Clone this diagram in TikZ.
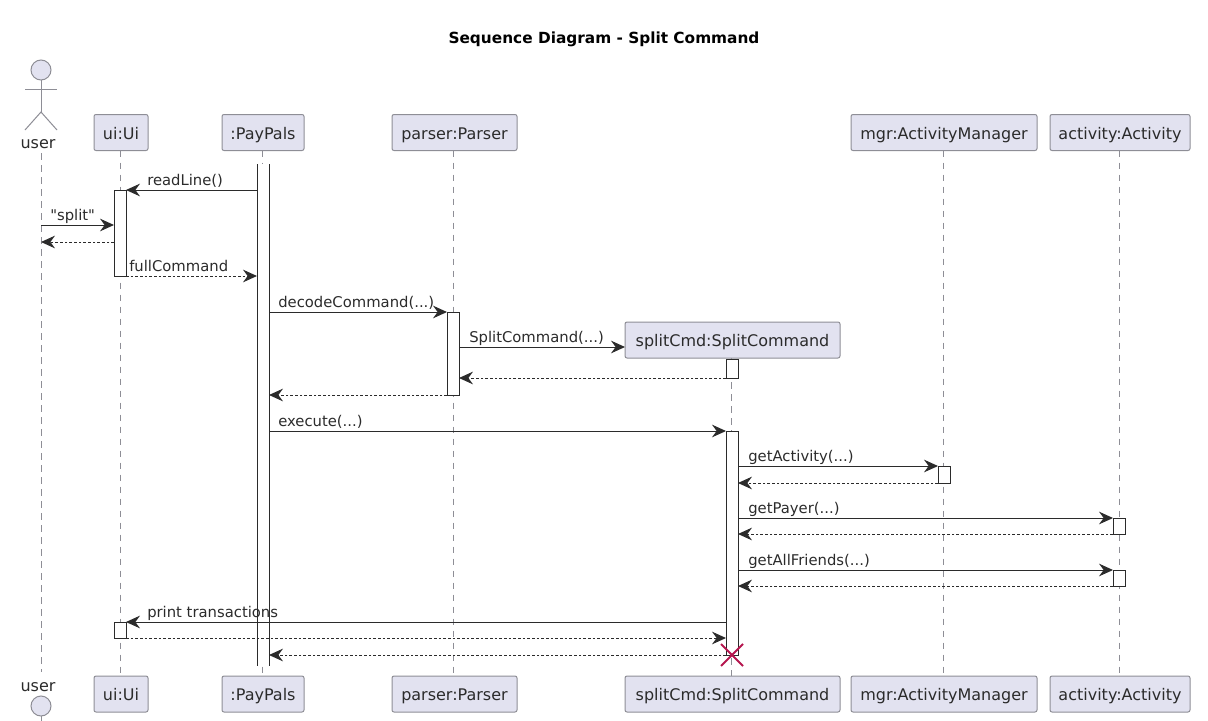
\documentclass[tikz,border=0pt]{standalone}
\usepackage{fontspec}
\setmainfont{DejaVu Sans}[Ligatures=TeXOff]
\usetikzlibrary{arrows.meta}

\definecolor{partfill}{HTML}{E2E2F0}
\definecolor{partline}{HTML}{8E8E96}
\definecolor{inkline}{HTML}{2B2B2B}
\definecolor{killred}{HTML}{B5164E}

\tikzset{
	x=0.75pt,y=-0.75pt,
	partbox/.style={draw=partline,fill=partfill,line width=0.75pt,rounded corners=1.5pt,inner sep=0pt,outer sep=0pt,minimum height=27pt,text height=10.4pt,text depth=0pt,font=\fontsize{12}{14}\selectfont,text=inkline},
	actbar/.style={draw=inkline,fill=white,line width=0.75pt,inner sep=0pt,outer sep=0pt,minimum width=9pt},
	lifeline/.style={draw=partline,line width=0.6pt,dash pattern=on 5pt off 4pt},
	msg/.style={draw=inkline,line width=0.75pt,-{Stealth[length=10.5pt,width=9.5pt,inset=3.5pt]}},
	ret/.style={msg,dash pattern=on 2pt off 1.5pt},
	msglabel/.style={anchor=west,inner sep=0pt,text height=9.2pt,text depth=0pt,font=\fontsize{11.1}{13}\selectfont,text=inkline},
	actorline/.style={draw=partline,line width=0.75pt},
	actorname/.style={inner sep=0pt,text height=8pt,text depth=0pt,font=\fontsize{12}{14}\selectfont,text=inkline}
}
\newcommand{\barnode}[4]{\node[actbar,minimum height={(#4-#3)*0.75pt}] (#1) at (#2,{(#3+#4)/2}) {};}

\begin{document}
\begin{tikzpicture}
	\useasboundingbox (0,0) rectangle (1208,721);
	\node[font=\fontsize{11.5}{13}\selectfont\bfseries,text=black] (title) at (604,39.5) {Sequence Diagram - Split Command};

	% participants, top and bottom
	\foreach \name/\cx/\bw/\txt in {ui/121/54/{ui:Ui},pay/263/82/{:PayPals},parser/454.5/125/{parser:Parser},mgr/944/186/{mgr:ActivityManager},act/1120/140/{activity:Activity}}{
		\node[partbox,minimum width=\bw*0.75pt] (\name Head) at (\cx,132.5) {\txt};
		\node[partbox,minimum width=\bw*0.75pt] (\name Foot) at (\cx,694) {\txt};
	}
	\node[partbox,minimum width=161.25pt] (splitHead) at (732.5,340) {splitCmd:SplitCommand};
	\node[partbox,minimum width=161.25pt] (splitFoot) at (732.5,694) {splitCmd:SplitCommand};

	% actor on top
	\node[circle,draw=partline,fill=partfill,line width=0.75pt,minimum size=15pt,inner sep=0pt,outer sep=0pt] (userCircle) at (41,70) {};
	\coordinate (userHip) at (41,112);
	\coordinate (userArmL) at (25,89);
	\coordinate (userArmR) at (57,89);
	\coordinate (userLegL) at (25,130);
	\coordinate (userLegR) at (57,130);
	\draw[actorline] (userCircle.south) -- (userHip);
	\draw[actorline] (userArmL) -- (userArmR);
	\draw[actorline] (userLegL) -- (userHip) -- (userLegR);
	\node[actorname] (userHead) at (38,143) {user};

	% actor at the bottom
	\node[actorname] (userFoot) at (38,686.5) {user};
	\node[circle,draw=partline,fill=partfill,line width=0.75pt,minimum size=15pt,inner sep=0pt,outer sep=0pt] (userCircleB) at (41,706) {};
	\coordinate (userBodyB) at (41,721);
	\draw[actorline] (userCircleB.south) -- (userBodyB);

	% lifelines
	\coordinate (userTop) at (41,153);
	\coordinate (userEnd) at (41,672);
	\draw[lifeline] (userTop) -- (userEnd);
	\foreach \name in {ui,pay,parser,mgr,act,split}{
		\draw[lifeline] ([xshift=-0.75pt]\name Head.south) -- ([xshift=-0.75pt]\name Foot.north);
	}

	% activations
	\node[draw=none,fill=white,inner sep=0pt,outer sep=0pt,minimum width=9pt,minimum height=376.5pt] (payBar) at (263,415) {};
	\draw[draw=inkline,line width=0.75pt] (payBar.north west) -- (payBar.south west);
	\draw[draw=inkline,line width=0.75pt] (payBar.north east) -- (payBar.south east);
	\barnode{uiBarA}{120}{190}{276}
	\barnode{uiBarB}{120}{622}{638}
	\barnode{parserBar}{453}{312}{395}
	\barnode{splitBarA}{732}{359}{378}
	\barnode{splitBarB}{732}{431}{655}
	\barnode{mgrBar}{944}{466}{483}
	\barnode{actBarA}{1119}{518}{534}
	\barnode{actBarB}{1119}{570}{586}

	% messages
	\draw[msg] (payBar.west |- uiBarA.north) -- (uiBarA.north east);
	\node[msglabel] (readLbl) at (147,179) {readLine()};
	\draw[msg] (userTop |- 0,225) -- (uiBarA.west |- 0,225);
	\node[msglabel] (splitLbl) at (50,214) {"split"};
	\draw[ret] (uiBarA.west |- 0,242) -- (userTop |- 0,242);
	\draw[ret] (uiBarA.south east) -- (payBar.west |- uiBarA.south);
	\node[msglabel] (fullLbl) at (129,265) {fullCommand};
	\draw[msg] (payBar.east |- parserBar.north) -- (parserBar.north west);
	\node[msglabel] (decodeLbl) at (278,301) {decodeCommand(...)};
	\draw[msg] (parserBar.east |- 0,347) -- (splitHead.west |- 0,347);
	\node[msglabel] (newLbl) at (469,336) {SplitCommand(...)};
	\draw[ret] (splitBarA.south west) -- (parserBar.east |- splitBarA.south);
	\draw[ret] (parserBar.south west) -- (payBar.east |- parserBar.south);
	\draw[msg] (payBar.east |- splitBarB.north) -- (splitBarB.north west);
	\node[msglabel] (execLbl) at (278,420) {execute(...)};
	\draw[msg] (splitBarB.east |- mgrBar.north) -- (mgrBar.north west);
	\node[msglabel] (getActLbl) at (748,455) {getActivity(...)};
	\draw[ret] (mgrBar.south west) -- (splitBarB.east |- mgrBar.south);
	\draw[msg] (splitBarB.east |- actBarA.north) -- (actBarA.north west);
	\node[msglabel] (getPayLbl) at (748,507) {getPayer(...)};
	\draw[ret] (actBarA.south west) -- (splitBarB.east |- actBarA.south);
	\draw[msg] (splitBarB.east |- actBarB.north) -- (actBarB.north west);
	\node[msglabel] (getAllLbl) at (748,559) {getAllFriends(...)};
	\draw[ret] (actBarB.south west) -- (splitBarB.east |- actBarB.south);
	\draw[msg] (splitBarB.west |- uiBarB.north) -- (uiBarB.north east);
	\node[msglabel] (printLbl) at (147,611) {print transactions};
	\draw[ret] (uiBarB.south east) -- (splitBarB.west |- uiBarB.south);
	\draw[ret] (splitBarB.south west) -- (payBar.east |- splitBarB.south);

	% destroy mark
	\coordinate (killA) at (721,644);
	\coordinate (killB) at (743,666);
	\coordinate (killC) at (721,666);
	\coordinate (killD) at (743,644);
	\draw[draw=killred,line width=1.5pt] (killA) -- (killB);
	\draw[draw=killred,line width=1.5pt] (killC) -- (killD);
\end{tikzpicture}
\end{document}
